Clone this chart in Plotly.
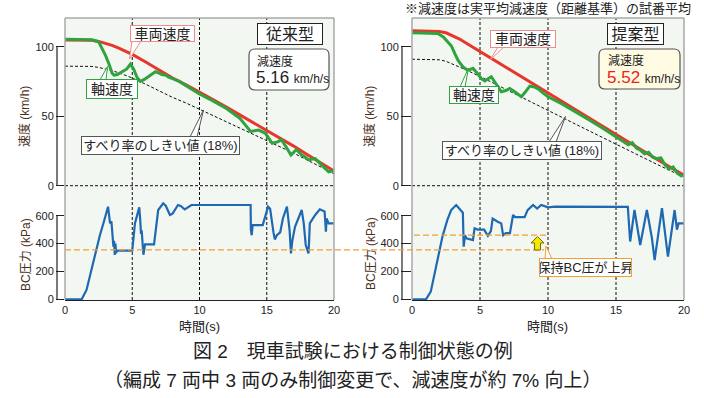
import plotly.graph_objects as go

# ---------------- data ----------------
# 従来型 (conventional)
conv_t_vehicle = [0, 1, 2, 2.5, 3, 3.5, 4, 5, 6, 7, 8, 9, 10, 11, 12, 13, 14, 15, 16, 17, 18, 19, 20]
conv_vehicle = [104.8, 104.8, 104.6, 103.8, 102.5, 101, 99, 94.5, 89, 83, 77.5, 72.5, 67.5, 62, 56.5, 51,
                45.5, 40, 34.5, 28.5, 22.5, 16.5, 10.5]
conv_threshold = [86, 86, 85.8, 85.1, 84, 82.8, 81.2, 77.5, 73, 68, 63.5, 59.5, 55, 50.8, 46.3, 41.8,
                  37.3, 32.8, 28.3, 23.4, 18.5, 13.5, 8.6]
conv_t_axle = [0, 1, 2, 2.5, 2.8, 3.0, 3.25, 3.5, 3.65, 3.9, 4.24, 4.6, 4.86, 5.1, 5.35, 5.6, 5.9, 6.22,
               6.5, 6.72, 7.0, 7.2, 7.5, 7.7, 8.0, 8.5, 9, 10, 11, 12, 13, 13.5, 13.8, 14.1, 14.4, 14.9,
               15.1, 15.4, 15.8, 16.1, 16.5, 16.8, 17.2, 17.6, 17.8, 18.1, 18.6, 19.1, 19.6, 20]
conv_axle = [105.3, 105.3, 105, 103.5, 98, 94, 88, 81, 79.5, 80, 82, 84, 87.5, 84, 78, 75, 76.5, 78.5,
             80.5, 82, 81, 80, 79.5, 78, 77, 75, 72, 66, 61, 55.5, 48.5, 42.5, 39, 39.5, 40, 37.7,
             34.5, 30.5, 31.5, 33, 27, 22, 26, 22, 21, 18.5, 19.5, 15, 10, 11]
conv_t_bc = [0, 1.24, 1.6, 2.1, 2.6, 2.9, 3.2, 3.35, 3.45, 3.5, 3.6, 3.65, 3.7, 3.75, 3.8, 3.85, 5.0,
             5.2, 5.52, 5.6, 5.65, 5.7, 5.75, 5.83, 5.95, 6.62, 6.93, 7.3, 7.5, 7.8, 8.0, 8.4, 8.6, 8.9,
             9.4, 10, 13.8, 13.82, 13.88, 13.95, 14.7, 15.1, 15.25, 15.5, 15.6, 15.75, 16.0, 16.2, 16.5,
             16.7, 16.8, 16.9, 17.1, 17.6, 17.75, 17.9, 18.1, 18.15, 18.2, 18.6, 18.95, 19.3, 19.4,
             19.45, 19.6, 20]
conv_bc = [0, 0, 67, 270, 462, 560, 665, 545, 560, 500, 378, 420, 318, 400, 330, 350, 350,
           545, 660, 560, 470, 495, 400, 320, 395, 395, 641, 689, 670, 605, 615, 677, 670, 646,
           677, 677, 677, 500, 460, 533, 533, 665, 650, 480, 430, 460, 480, 580, 665,
           495, 330, 420, 520, 641, 545, 390, 330, 420, 545, 605, 646, 630, 485,
           580, 545, 545]
conv_hold_bc = 355

# 提案型 (proposed)
prop_t_vehicle = [0, 1, 2, 2.5, 3, 3.5, 4, 5, 6, 7, 8, 9, 10, 11, 12, 13, 14, 15, 16, 17, 18, 19, 20]
prop_vehicle = [111.5, 111.5, 111, 110, 108, 105.5, 102.5, 96.5, 90.5, 84.5, 78.5, 72.5, 66.5, 60.5,
                54.5, 48.5, 42.5, 36.5, 30.5, 24.8, 19, 13.3, 7.5]
prop_threshold = [91, 91, 90.6, 89.5, 87.5, 85.5, 83.2, 78.6, 73.8, 69, 64.1, 59.2, 54.2, 49.3, 44.4,
                  39.5, 34.6, 29.7, 24.8, 20.1, 15.4, 10.8, 6.2]
prop_t_axle = [0, 1, 1.9, 2.3, 2.6, 2.9, 3.15, 3.4, 3.75, 4.1, 4.48, 4.8, 5.1, 5.35, 5.6, 5.83, 6.2, 6.57,
               6.9, 7.18, 7.5, 8.04, 8.3, 8.66, 9.0, 9.3, 9.6, 10, 11, 12, 13, 14, 15, 15.5, 15.9, 16.2,
               16.5, 16.8, 17.1, 17.4, 17.7, 18.0, 18.3, 18.6, 18.9, 19.2, 19.5, 19.8, 20]
prop_axle = [110, 110, 109.5, 107, 104, 100.5, 95, 90, 85.5, 83, 84.4, 81, 77, 75.3, 77, 78.4, 73, 67.6,
             68.5, 70, 68, 64, 67, 71.7, 71, 69.5, 67, 64, 59, 53.5, 47.5, 41.5, 35.5, 32, 29.5, 31,
             27, 25.5, 23, 24, 20.5, 19.5, 20, 15, 12, 13.5, 9, 7, 7.5]
prop_t_bc = [0, 1.03, 1.38, 1.87, 2.24, 2.6, 2.88, 3.25, 3.5, 3.74, 3.8, 3.9, 4.0, 4.48, 4.6, 4.85, 5.3,
             5.58, 5.8, 5.93, 6.3, 6.56, 6.7, 6.9, 7.2, 7.43, 7.6, 8.28, 8.5, 8.9, 9.2, 9.5, 10.0, 10.5,
             15.87, 16.04, 16.36, 16.78, 17.27, 17.64, 17.84, 18.38, 18.82, 19.31, 19.48, 19.6, 20]
prop_bc = [0, 0, 55, 270, 450, 570, 641, 677, 650, 622, 378, 460, 437, 425, 510, 500, 500,
           455, 490, 580, 557, 545, 460, 475, 475, 605, 590, 590, 640, 677, 652, 677, 660, 665,
           663, 415, 641, 390, 641, 440, 282, 655, 306, 641, 500, 545, 545]
prop_hold_bc = 460

x_ticks = [0, 5, 10, 15, 20]
grid_x = [5, 10, 15]
speed_ticks = [0, 50, 100]
bc_ticks = [0, 200, 400, 600]

# ---------------- style ----------------
FONT = "Liberation Sans, Noto Sans CJK JP, sans-serif"
RED = "#e8362c"
GREEN = "#2fa33e"
BLUE = "#1f68b3"
ORANGE = "#f0a030"
BG = "#f2f7f1"
W, H = 704, 398
L, R, T, B = 65, 684, 18, 300
SPLIT = 190


def PX(x):
    return (x - L) / (R - L)


def PY(y):
    return (B - y) / (B - T)


fig = go.Figure()


def add_line(x, y, xa, ya, color, width, dash=None):
    fig.add_trace(go.Scatter(x=x, y=y, xaxis=xa, yaxis=ya, mode="lines",
                             line=dict(color=color, width=width, dash=dash),
                             showlegend=False, hoverinfo="skip"))


# left upper
add_line(conv_t_vehicle, conv_threshold, "x", "y", "#111", 1, "3px,2px")
add_line(conv_t_vehicle, conv_vehicle, "x", "y", RED, 3)
add_line(conv_t_axle, conv_axle, "x", "y", GREEN, 3)
# right upper
add_line(prop_t_vehicle, prop_threshold, "x2", "y2", "#111", 1, "3px,2px")
add_line(prop_t_vehicle, prop_vehicle, "x2", "y2", RED, 3)
add_line(prop_t_axle, prop_axle, "x2", "y2", GREEN, 3)
# lower
add_line(conv_t_bc, conv_bc, "x3", "y3", BLUE, 2.2)
add_line(prop_t_bc, prop_bc, "x4", "y4", BLUE, 2.2)

xl = [0, PX(334)]
xr = [PX(412), 1]
yu = [PY(SPLIT), 1]
yd = [0, PY(SPLIT)]
yr_up = [(185.7 - SPLIT) / 1.39, (185.7 - T) / 1.39]
yr_dn = [(299.3 - B) / 0.1393, (299.3 - SPLIT) / 0.1393]

tickfont = dict(family=FONT, size=11, color="#222")
common_x = dict(range=[0, 20], showgrid=False, zeroline=False, fixedrange=True)
fig.update_layout(
    width=W, height=H, autosize=False,
    margin=dict(l=L, r=W - R, t=T, b=H - B),
    paper_bgcolor="white", plot_bgcolor=BG,
    xaxis=dict(domain=xl, anchor="y", showticklabels=False, ticks="", showline=False, **common_x),
    xaxis2=dict(domain=xr, anchor="y2", showticklabels=False, ticks="", showline=False, **common_x),
    xaxis3=dict(domain=xl, anchor="y3", tickvals=x_ticks, ticks="", showline=True, linecolor="#222",
                linewidth=1, tickfont=tickfont, **common_x),
    xaxis4=dict(domain=xr, anchor="y4", tickvals=x_ticks, ticks="", showline=True, linecolor="#222",
                linewidth=1, tickfont=tickfont, **common_x),
    yaxis=dict(domain=yu, anchor="x", range=yr_up, tickvals=speed_ticks, ticks="outside", ticklen=8,
               tickcolor="#222", showgrid=False, zeroline=False, tickfont=tickfont),
    yaxis2=dict(domain=yu, anchor="x2", range=yr_up, tickvals=speed_ticks, ticks="outside", ticklen=10,
                tickcolor="#222", showgrid=False, zeroline=False, tickfont=tickfont),
    yaxis3=dict(domain=yd, anchor="x3", range=yr_dn, tickvals=bc_ticks, ticks="outside", ticklen=8,
                tickcolor="#222", showgrid=False, zeroline=False, tickfont=tickfont),
    yaxis4=dict(domain=yd, anchor="x4", range=yr_dn, tickvals=bc_ticks, ticks="outside", ticklen=10,
                tickcolor="#222", showgrid=False, zeroline=False, tickfont=tickfont),
)

shapes = []
# panel borders
for xd in (xl, xr):
    shapes.append(dict(type="line", xref="paper", yref="paper", x0=xd[0], x1=xd[0], y0=0, y1=1,
                       line=dict(color="#a8a8a8", width=1.5), layer="above"))
    shapes.append(dict(type="line", xref="paper", yref="paper", x0=xd[1], x1=xd[1], y0=0, y1=1,
                       line=dict(color="#a8a8a8", width=1.5), layer="above"))
    shapes.append(dict(type="line", xref="paper", yref="paper", x0=xd[0], x1=xd[1], y0=1, y1=1,
                       line=dict(color="#a8a8a8", width=1.5), layer="above"))
# grid lines
for xa in ("x", "x2"):
    for g in grid_x:
        shapes.append(dict(type="line", xref=xa, yref="paper", x0=g, x1=g, y0=0, y1=1,
                           line=dict(color="#111", width=1, dash="3px,2px"), layer="below"))
for xa, ya in (("x", "y"), ("x2", "y2")):
    shapes.append(dict(type="line", xref=xa + " domain", yref=ya, x0=0, x1=1, y0=0, y1=0,
                       line=dict(color="#111", width=1, dash="3px,2px"), layer="below"))
# offset spines
for xa, ya, ticks, off in (("x", "y", speed_ticks, -8), ("x2", "y2", speed_ticks, -10),
                           ("x3", "y3", bc_ticks, -8), ("x4", "y4", bc_ticks, -10)):
    shapes.append(dict(type="line", xref=xa + " domain", yref=ya, xsizemode="pixel", xanchor=0,
                       x0=off, x1=off, y0=min(ticks), y1=max(ticks), line=dict(color="#222", width=1.2)))
# hold pressure lines
shapes.append(dict(type="line", xref="paper", yref="y3", x0=PX(65), x1=PX(544), y0=conv_hold_bc,
                   y1=conv_hold_bc, line=dict(color=ORANGE, width=1.3, dash="6px,3px"), layer="above"))
shapes.append(dict(type="line", xref="paper", yref="y4", x0=PX(414), x1=PX(549), y0=prop_hold_bc,
                   y1=prop_hold_bc, line=dict(color=ORANGE, width=1.3, dash="6px,3px"), layer="above"))


def poly(points, fill, line, width=1):
    d = "M " + " L ".join(f"{PX(x):.5f},{PY(y):.5f}" for x, y in points) + " Z"
    shapes.append(dict(type="path", xref="paper", yref="paper", path=d, fillcolor=fill,
                       line=dict(color=line, width=width), layer="above"))


def rounded(x0, y0, x1, y1, r, fill, line):
    def p(x, y):
        return f"{PX(x):.5f},{PY(y):.5f}"
    d = (f"M {p(x0 + r, y0)} L {p(x1 - r, y0)} Q {p(x1, y0)} {p(x1, y0 + r)} "
         f"L {p(x1, y1 - r)} Q {p(x1, y1)} {p(x1 - r, y1)} L {p(x0 + r, y1)} "
         f"Q {p(x0, y1)} {p(x0, y1 - r)} L {p(x0, y0 + r)} Q {p(x0, y0)} {p(x0 + r, y0)} Z")
    shapes.append(dict(type="path", xref="paper", yref="paper", path=d, fillcolor=fill,
                       line=dict(color=line, width=1.2), layer="above"))


# yellow arrow
ax = 537.5
poly([(ax - 3, 250), (ax + 3, 250), (ax + 3, 243), (ax + 6.5, 243), (ax, 236.5), (ax - 6.5, 243),
      (ax - 3, 243)], "#f5e800", "#7a6a00", 1)
# bubble wedges
PINK = "#f08c8c"
poly([(132, 41), (141, 41), (129.5, 59)], "white", PINK)
poly([(100, 80), (106, 80), (107.5, 66.5)], "white", GREEN)
poly([(190, 137), (197, 137), (203.5, 110)], "white", "#555")
poly([(498, 47), (504, 47), (490, 60)], "white", PINK)
poly([(460, 87), (465, 87), (468.5, 68)], "white", GREEN)
poly([(549, 142), (556, 142), (565.5, 116.5)], "white", "#555")
poly([(545, 259), (552, 259), (546, 246)], "white", ORANGE)
# rounded boxes
rounded(249, 49, 329, 90, 6, "white", "#555")
rounded(599, 49, 680, 89, 6, "#fffbe2", "#555")
fig.update_layout(shapes=shapes)

anns = []


def box(text, x0, y0, x1, y1, size, border, bg="white", color="#222"):
    anns.append(dict(xref="paper", yref="paper", x=PX((x0 + x1) / 2), y=PY((y0 + y1) / 2),
                     text=text, showarrow=False, xanchor="center", yanchor="middle",
                     font=dict(family=FONT, size=size, color=color), bgcolor=bg,
                     bordercolor=border, borderwidth=1, borderpad=0,
                     width=x1 - x0 - 2, height=y1 - y0 - 2))


def txt(text, x, y, size, color="#222", xanchor="center", angle=0):
    anns.append(dict(xref="paper", yref="paper", x=PX(x), y=PY(y), text=text, showarrow=False,
                     xanchor=xanchor, yanchor="middle", textangle=angle,
                     font=dict(family=FONT, size=size, color=color)))


box("車両速度", 130, 25, 195, 42, 14, PINK)
box("従来型", 257, 23, 323, 45, 16, "#222")
box("軸速度", 86, 79, 138, 99, 14, GREEN)
box("すべり率のしきい値 (18%)", 81, 136, 240, 155, 13, "#555")
box("車両速度", 490, 30, 556, 48, 14, PINK)
box("提案型", 607, 23, 664, 45, 16, "#222")
box("軸速度", 449, 86, 499, 104, 14, GREEN)
box("すべり率のしきい値 (18%)", 442, 141, 602, 160, 13, "#555")
box("保持BC圧が上昇", 539, 258, 632, 277, 13, ORANGE)

txt("減速度", 255, 61.5, 12, xanchor="left")
txt("5.16 <span style='font-size:12px'>km/h/s</span>", 254, 77.5, 17, xanchor="left")
txt("減速度", 606, 60.5, 12, xanchor="left")
txt("<span style='color:#e8231b'>5.52</span> <span style='font-size:12px'>km/h/s</span>", 605, 77.5, 17,
    xanchor="left")

txt("速度 (km/h)", 25, 117, 12, color="#4a3020", angle=-90)
txt("BC圧力 (kPa)", 26, 254, 12, color="#4a3020", angle=-90)
txt("速度 (km/h)", 370, 117, 12, color="#4a3020", angle=-90)
txt("BC圧力 (kPa)", 371, 254, 12, color="#4a3020", angle=-90)
txt("時間(s)", 199, 326, 13)
txt("時間(s)", 547, 326, 13)
txt("※減速度は実平均減速度（距離基準）の試番平均", 548, 8, 13)
txt("図 2　現車試験における制御状態の例", 353, 351, 19)
txt("（編成 7 両中 3 両のみ制御変更で、減速度が約 7% 向上）", 353, 380, 19)
fig.update_layout(annotations=anns)

fig.write_html("out.html", post_script="document.body.style.margin='0';",
               config={"displayModeBar": False})
